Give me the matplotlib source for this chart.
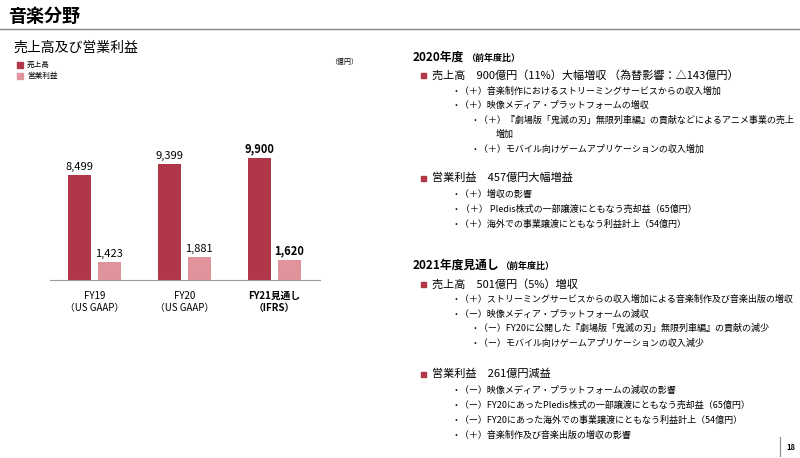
import matplotlib.pyplot as plt
import numpy as np

plt.rcParams["font.family"] = "Noto Sans CJK JP"

categories = ["FY19\n（US GAAP）", "FY20\n（US GAAP）", "FY21見通し\n（IFRS）"]
sales = [8499, 9399, 9900]
profit = [1423, 1881, 1620]
red = "#b0364a"
pink = "#e0939a"

W, H = 800, 458
fig = plt.figure(figsize=(8, 4.58), dpi=100)

def t(x, y, s, **kw):
    fig.text(x / W, 1 - y / H, s, va="center", **kw)

# header
t(8, 17, "音楽分野", fontsize=13, fontweight="bold")
fig.add_artist(plt.Line2D([0, 1], [1 - 29 / H] * 2, color="#888888", lw=1))
t(13, 48, "売上高及び営業利益", fontsize=10)
t(330, 62, "（億円）", fontsize=5)
for y, lab, c in [(65, "売上高", red), (76, "営業利益", pink)]:
    fig.patches.append(plt.Rectangle((17 / W, 1 - (y + 3) / H), 6 / W, 6 / H,
                                     color=c, transform=fig.transFigure))
    t(27, y, lab, fontsize=5.5)

# chart
ax = fig.add_axes([50 / W, 1 - 280 / H, 270 / W, 180 / H])
x = np.arange(len(categories))
ax.bar(x - 0.165, sales, 0.26, color=red)
ax.bar(x + 0.165, profit, 0.26, color=pink)
for i in x:
    bold = "bold" if i == 2 else "normal"
    ax.text(i - 0.165, sales[i] + 250, f"{sales[i]:,}", ha="center", va="bottom",
            fontsize=8, fontweight=bold)
    ax.text(i + 0.165, profit[i] + 250, f"{profit[i]:,}", ha="center", va="bottom",
            fontsize=8, fontweight=bold)
ax.set_xlim(-0.494, 2.506)
ax.set_ylim(0, 14607)
ax.set_xticks(x)
ax.set_xticklabels(categories, fontsize=7, linespacing=1.2)
ax.get_xticklabels()[2].set_fontweight("bold")
ax.tick_params(length=0, pad=8)
ax.set_yticks([])
for s in ["top", "right", "left"]:
    ax.spines[s].set_visible(False)
ax.spines["bottom"].set_color("#999999")

# right text
def head(y, a, b):
    t(413, y, a, fontsize=8.5, fontweight="bold")
    t(413 + 8.5 * 1.39 * 0.6 * 4 + 8.5 * 1.39 * 2, y, b, fontsize=6.5, fontweight="bold")

def sq(y, s):
    fig.patches.append(plt.Rectangle((421 / W, 1 - (y + 2.5) / H), 5 / W, 5 / H,
                                     color=red, transform=fig.transFigure))
    t(432, y, s, fontsize=8)

t(413, 57, "2020年度", fontsize=8.5, fontweight="bold")
t(466, 58, "（前年度比）", fontsize=6.5, fontweight="bold")
sq(75, "売上高　900億円（11%）大幅増収 （為替影響：△143億円）")
t(452, 91, "・（＋）音楽制作におけるストリーミングサービスからの収入増加", fontsize=6.5)
t(452, 105, "・（＋）映像メディア・プラットフォームの増収", fontsize=6.5)
t(470, 120, "・（＋）『劇場版「鬼滅の刃」無限列車編』の貢献などによるアニメ事業の売上", fontsize=6.5)
t(496, 134, "増加", fontsize=6.5)
t(470, 149, "・（＋）モバイル向けゲームアプリケーションの収入増加", fontsize=6.5)
sq(178, "営業利益　457億円大幅増益")
t(452, 194, "・（＋）増収の影響", fontsize=6.5)
t(452, 209, "・（＋） Pledis株式の一部譲渡にともなう売却益（65億円）", fontsize=6.5)
t(452, 224, "・（＋）海外での事業譲渡にともなう利益計上（54億円）", fontsize=6.5)

t(413, 265, "2021年度見通し", fontsize=8.5, fontweight="bold")
t(500, 266, "（前年度比）", fontsize=6.5, fontweight="bold")
sq(284, "売上高　501億円（5%）増収")
t(452, 299, "・（＋）ストリーミングサービスからの収入増加による音楽制作及び音楽出版の増収", fontsize=6.5)
t(452, 314, "・（ー）映像メディア・プラットフォームの減収", fontsize=6.5)
t(470, 328, "・（ー）FY20に公開した『劇場版「鬼滅の刃」無限列車編』の貢献の減少", fontsize=6.5)
t(470, 343, "・（ー）モバイル向けゲームアプリケーションの収入減少", fontsize=6.5)
sq(374, "営業利益　261億円減益")
t(452, 390, "・（ー）映像メディア・プラットフォームの減収の影響", fontsize=6.5)
t(452, 405, "・（ー）FY20にあったPledis株式の一部譲渡にともなう売却益（65億円）", fontsize=6.5)
t(452, 420, "・（ー）FY20にあった海外での事業譲渡にともなう利益計上（54億円）", fontsize=6.5)
t(452, 435, "・（＋）音楽制作及び音楽出版の増収の影響", fontsize=6.5)

fig.add_artist(plt.Line2D([780 / W] * 2, [1 - 437 / H, 1 - 456 / H], color="#888888", lw=0.8))
t(786, 447, "18", fontsize=5.5, fontweight="bold")

fig.savefig("out.png", dpi=100)
